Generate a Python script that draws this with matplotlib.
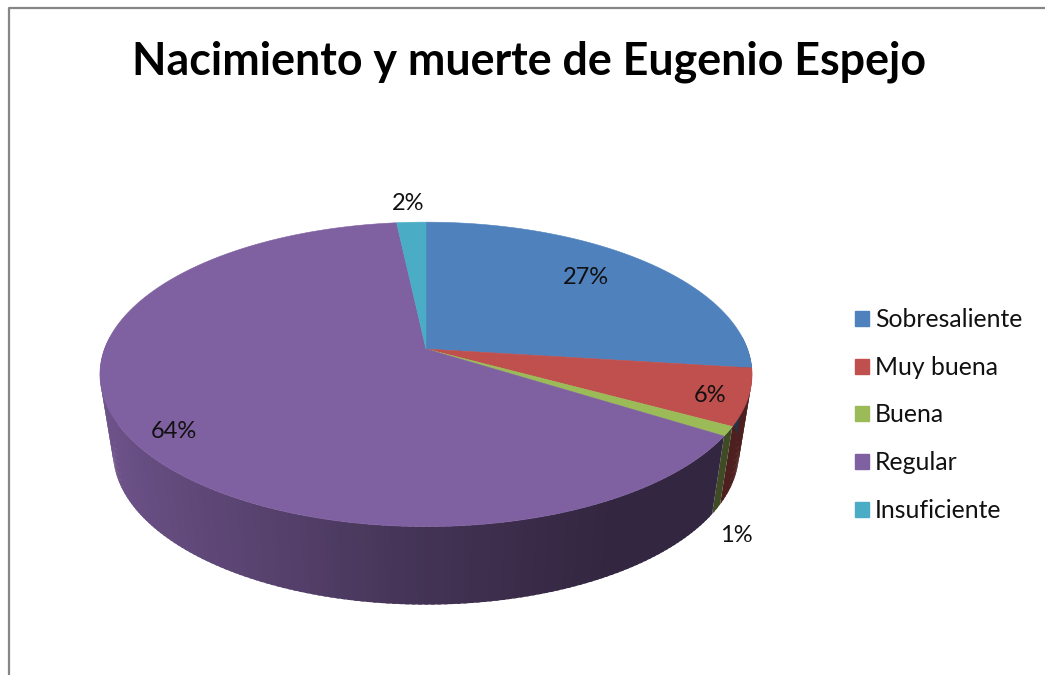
import matplotlib
matplotlib.use("Agg")
import matplotlib.pyplot as plt
from matplotlib.patches import Polygon, Patch
import numpy as np

plt.rcParams['font.family'] = ['Lato', 'DejaVu Sans']

titulo = "Nacimiento y muerte de Eugenio Espejo"
categorias = ["Sobresaliente", "Muy buena", "Buena", "Regular", "Insuficiente"]
valores = [27, 6, 1, 64.3, 1.7]
colores = ["#4f81bd", "#c0504d", "#9bbb59", "#7f60a0", "#4bacc6"]
# donde van las etiquetas, en pixeles
pos_etiquetas = [(586, 278), (710, 396), (736, 536), (174, 432), (408, 204)]

fig = plt.figure(figsize=(10.45, 6.75), dpi=100)
ax = fig.add_axes([0, 0, 1, 1])
ax.set_xlim(0, 1045)
ax.set_ylim(675, 0)
ax.axis("off")

# marco del grafico
ax.plot([8.5, 8.5, 1100], [700, 7.5, 7.5], color="#868686", lw=1.6)


def proyecta(theta, y0, radio):
    # perspectiva: lo que esta cerca del observador se ve mas grande
    u = np.sin(theta)
    v = -np.cos(theta)
    s = 1 / (1 - v / 6)
    return 426 + radio * u * s, y0 + 148 * v * s


def sombra(theta):
    return np.interp(np.sin(theta), [-1, -0.4, 0, 0.5, 1], [0.88, 0.68, 0.53, 0.4, 0.4])


y_sup, r_sup = 349, 321.5
y_inf, r_inf = 427, 308.6

limites = np.radians(np.cumsum([0] + valores) * 3.6)

# lateral, solo la parte que mira hacia delante
for i, color in enumerate(colores):
    ini = max(limites[i], np.radians(85))
    fin = min(limites[i + 1], np.radians(275))
    if fin <= ini:
        continue
    n = max(int(np.degrees(fin - ini)), 1)
    cortes = np.linspace(ini, fin, n + 1)
    paso = cortes[1] - cortes[0]
    base = np.array(matplotlib.colors.to_rgb(color))
    # cada tira pisa un poco la siguiente para que no se noten las juntas
    for j, (a, b) in enumerate(zip(cortes[:-1], cortes[1:])):
        b2 = b if j == n - 1 else b + paso * 0.6
        x1, y1 = proyecta(a, y_sup, r_sup)
        x2, y2 = proyecta(b2, y_sup, r_sup)
        x3, y3 = proyecta(b2, y_inf, r_inf)
        x4, y4 = proyecta(a, y_inf, r_inf)
        c = base * sombra((a + b) / 2)
        ax.add_patch(Polygon([(x1, y1), (x2, y2), (x3, y3), (x4, y4)], closed=True,
                             facecolor=c, edgecolor="none", zorder=1 + (n - j) * 0.001))

# cara superior
for i, color in enumerate(colores):
    t = np.linspace(limites[i], limites[i + 1], max(int(valores[i]) * 4, 8))
    xs, ys = proyecta(t, y_sup, r_sup)
    puntos = [(426, y_sup)] + list(zip(xs, ys))
    ax.add_patch(Polygon(puntos, closed=True, facecolor=color, edgecolor=color, lw=0.4, zorder=3))

ax.text(529, 62, titulo, fontsize=32.2, fontweight="bold", color="black", ha="center", va="center")

for v, (x, y) in zip(valores, pos_etiquetas):
    ax.text(x, y, f"{v:.0f}%", fontsize=17, color="#111111", ha="center", va="center", zorder=4)

handles = [Patch(facecolor=c, edgecolor=c, label=n) for c, n in zip(colores, categorias)]
ax.legend(handles=handles, loc="center left", bbox_to_anchor=(855 / 1045, 1 - 415 / 675),
          frameon=False, fontsize=17.8, labelspacing=1.0, handlelength=0.56, handleheight=0.56,
          handletextpad=0.25, labelcolor="#111111", borderpad=0, borderaxespad=0)

fig.savefig("out.png", dpi=100)
